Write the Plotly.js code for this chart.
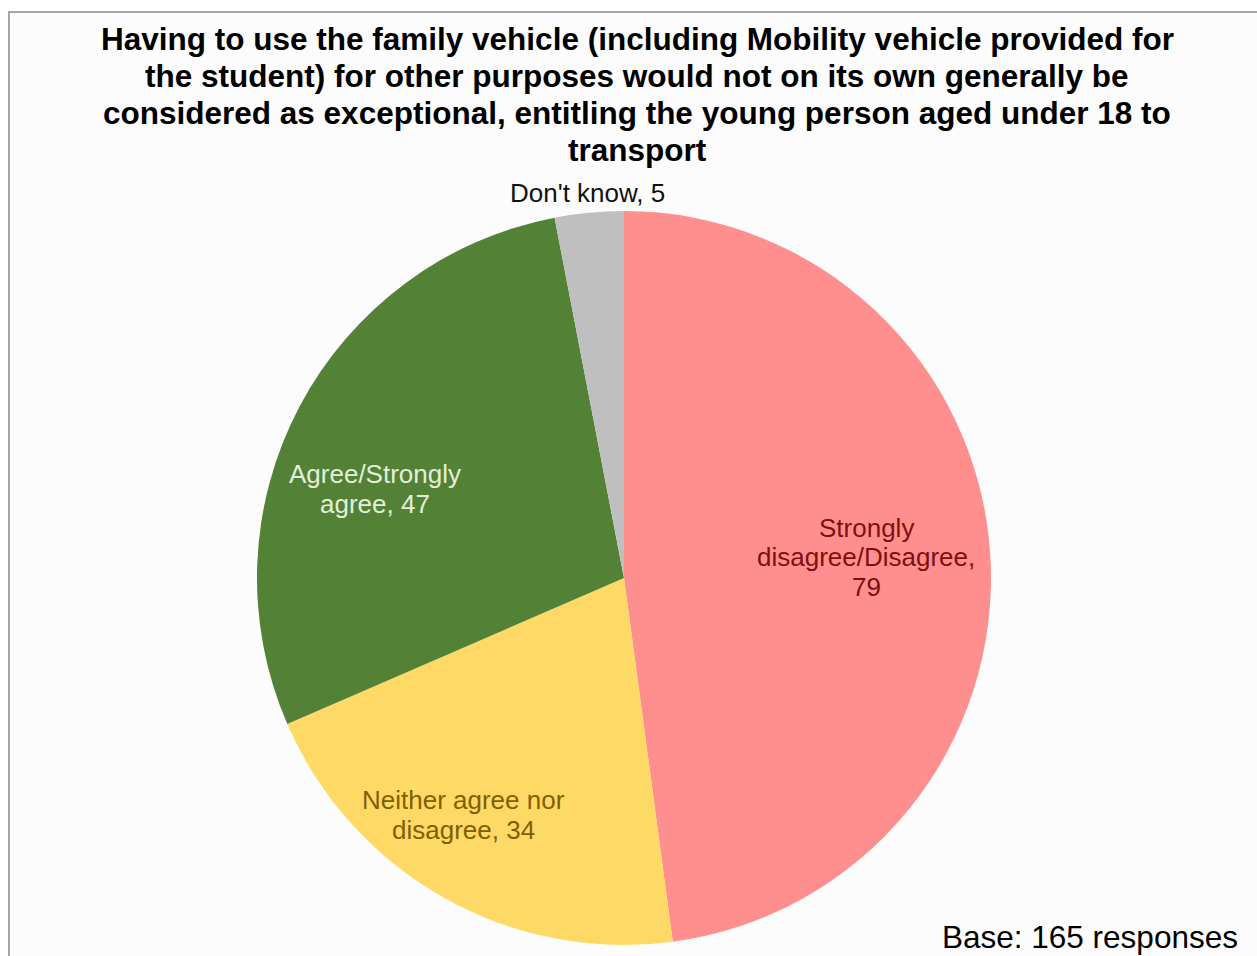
<!DOCTYPE html>
<html>
<head>
<meta charset="utf-8">
<script src="https://cdn.plot.ly/plotly-3.0.1.min.js"></script>
<style>
  html, body { margin: 0; padding: 0; background: #ffffff; }
  #chart { width: 1257px; height: 956px; }
</style>
</head>
<body>
<div id="chart"></div>
<script>
var titleLines = [
  'Having to use the family vehicle (including Mobility vehicle provided for',
  'the student) for other purposes would not on its own generally be',
  'considered as exceptional, entitling the young person aged under 18 to',
  'transport'
];
var categories = ['Strongly disagree/Disagree', 'Neither agree nor disagree', 'Agree/Strongly agree', "Don't know"];
var responses = [79, 34, 47, 5];
// how each label is wrapped on the chart
var labelLines = [
  ['Strongly', 'disagree/Disagree,'],
  ['Neither agree nor', 'disagree,'],
  ['Agree/Strongly', 'agree,'],
  ["Don't know,"]
];
var sliceColors = ['#ff8f8f', '#ffd966', '#538135', '#bfbfbf'];
var labelColors = ['#7f0f0f', '#7f6000', '#e2efd9', '#111111'];
// label centres in pixels
var labelPos = [[866, 557], [463, 815], [375, 489], [587, 193]];

var W = 1257, H = 956;
var FONT = 'Liberation Sans, Arial, sans-serif';
function px(x) { return x / W; }
function py(y) { return 1 - y / H; }

var totalBase = 0;
for (var i = 0; i < responses.length; i++) totalBase += responses[i];

var trace = {
  type: 'pie',
  labels: categories,
  values: responses,
  sort: false,
  direction: 'clockwise',
  rotation: 0,
  textinfo: 'none',
  hoverinfo: 'label+value',
  marker: { colors: sliceColors, line: { width: 0 } },
  domain: { x: [px(257), px(991)], y: [py(945), py(211)] },
  showlegend: false
};

var annotations = [];

// title, one line per annotation so the spacing matches
for (var t = 0; t < titleLines.length; t++) {
  annotations.push({
    text: '<b>' + titleLines[t] + '</b>',
    x: px(637), y: py(39 + t * 37),
    xref: 'paper', yref: 'paper',
    xanchor: 'center', yanchor: 'middle',
    showarrow: false,
    font: { family: FONT, size: 31.5, color: '#000000' }
  });
}

var lineGap = 29.5;
for (var i = 0; i < categories.length; i++) {
  var lines = labelLines[i].slice();
  if (lines.length === 1) {
    lines[0] = lines[0] + ' ' + responses[i];
  } else if (i === 0) {
    lines.push(String(responses[i]));
  } else {
    lines[lines.length - 1] = lines[lines.length - 1] + ' ' + responses[i];
  }
  for (var k = 0; k < lines.length; k++) {
    var yc = labelPos[i][1] + (k - (lines.length - 1) / 2) * lineGap;
    annotations.push({
      text: lines[k],
      x: px(labelPos[i][0]),
      y: py(yc),
      xref: 'paper', yref: 'paper',
      xanchor: 'center', yanchor: 'middle',
      showarrow: false,
      font: { family: FONT, size: 26, color: labelColors[i] }
    });
  }
}

annotations.push({
  text: 'Base: ' + totalBase + ' responses',
  x: px(1240), y: py(937),
  xref: 'paper', yref: 'paper',
  xanchor: 'right', yanchor: 'middle',
  showarrow: false,
  font: { family: FONT, size: 31.5, color: '#000000' }
});

var layout = {
  width: W,
  height: H,
  margin: { l: 0, r: 0, t: 0, b: 0 },
  paper_bgcolor: '#ffffff',
  shapes: [{
    type: 'rect',
    xref: 'paper', yref: 'paper',
    x0: px(9), x1: 1.02, y0: -0.02, y1: py(12),
    fillcolor: '#fcfcfc',
    line: { color: '#a6a6a6', width: 2 },
    layer: 'below'
  }],
  annotations: annotations
};

Plotly.newPlot('chart', [trace], layout, { displayModeBar: false });
</script>
</body>
</html>
